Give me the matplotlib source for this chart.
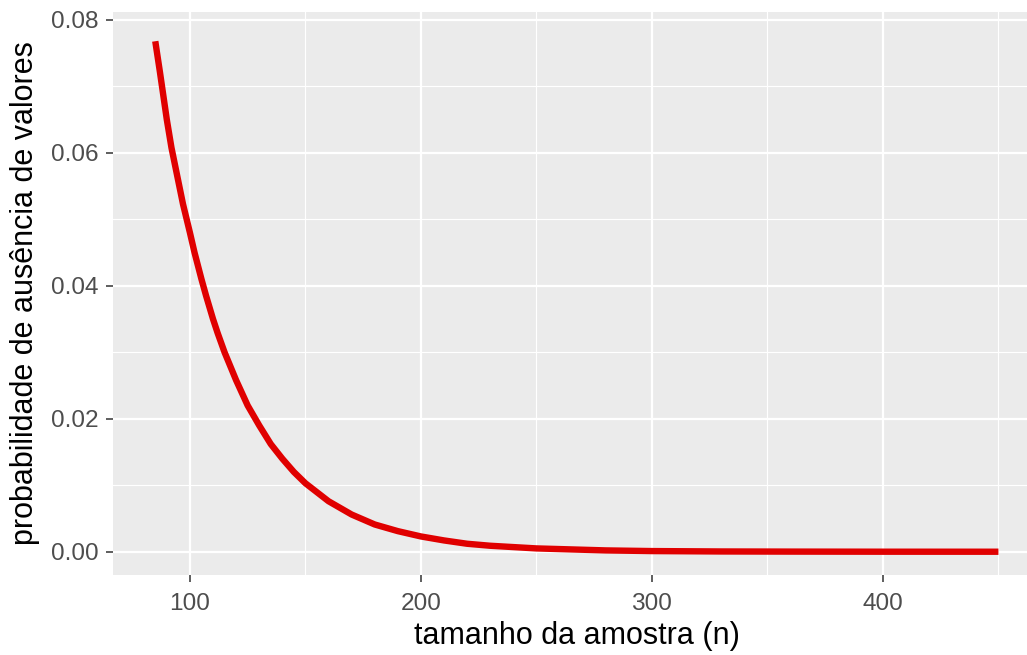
import matplotlib
matplotlib.use("Agg")
import matplotlib.pyplot as plt
from matplotlib.ticker import MultipleLocator

# valores
tamanho = [85, 87, 90, 92, 95, 97, 100, 102, 105, 107, 110, 112, 115, 120,
           125, 130, 135, 140, 145, 150, 160, 170, 180, 190, 200, 210, 220,
           230, 240, 250, 260, 280, 300, 330, 360, 400, 450]
probabilidade = [0.0768, 0.0722, 0.0650, 0.0608, 0.0557, 0.0523, 0.0480,
                 0.0450, 0.0410, 0.0385, 0.0350, 0.0329, 0.0300, 0.0258,
                 0.0220, 0.0190, 0.0162, 0.0140, 0.0120, 0.0103, 0.0076,
                 0.0056, 0.0041, 0.0031, 0.0023, 0.0017, 0.0012, 0.0009,
                 0.0007, 0.0005, 0.0004, 0.0002, 0.0001, 0.00004, 0.00002,
                 0.000005, 0.000001]

plt.rcParams['font.family'] = ['Liberation Sans', 'DejaVu Sans']

fig = plt.figure(figsize=(10.27, 6.55), dpi=100)
# painel cortado a direita, como no original
ax = fig.add_axes([113 / 1027, (655 - 575) / 655, (1040 - 113) / 1027, (575 - 12) / 655])
ax.set_facecolor('#EBEBEB')
for s in ax.spines.values():
    s.set_visible(False)

ax.plot(tamanho, probabilidade, color='#E00000', lw=4.6, solid_capstyle='butt', zorder=3)

ax.set_xlim(66.7, 468)
ax.set_ylim(-0.0035, 0.0812)

ax.xaxis.set_major_locator(MultipleLocator(100))
ax.xaxis.set_minor_locator(MultipleLocator(50))
ax.yaxis.set_major_locator(MultipleLocator(0.02))
ax.yaxis.set_minor_locator(MultipleLocator(0.01))
ax.yaxis.set_major_formatter(plt.FuncFormatter(lambda v, p: f"{v:.2f}"))

ax.grid(which='major', color='white', lw=1.6)
ax.grid(which='minor', color='white', lw=0.8)
ax.set_axisbelow(True)

ax.tick_params(which='major', length=5, width=1.1, color='#333333',
               labelcolor='#4D4D4D', labelsize=17.6)
ax.tick_params(axis='x', which='major', pad=8)
ax.tick_params(axis='y', which='major', pad=5.5)
ax.tick_params(which='minor', length=0)

ax.set_xlabel('tamanho da amostra (n)', fontsize=22, color='black', labelpad=4)
ax.set_ylabel('probabilidade de ausência de valores', fontsize=22, color='black', labelpad=8)

fig.savefig('out.png', dpi=100)
